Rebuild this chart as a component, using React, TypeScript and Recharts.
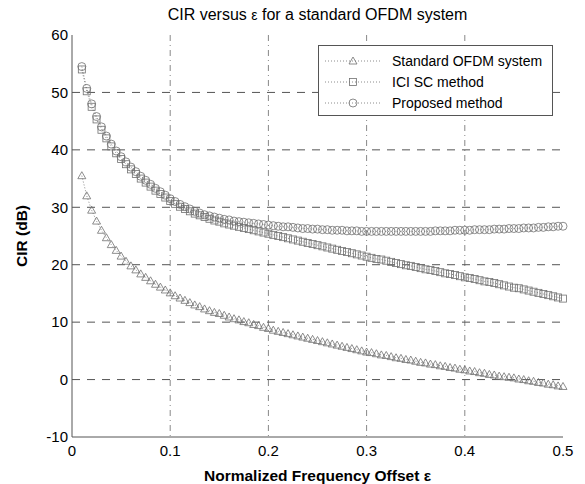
import { LineChart, Line, XAxis, YAxis, CartesianGrid, Legend, Label } from 'recharts'

const FONT = '"Liberation Sans", Arial, Helvetica, sans-serif'

// normalized frequency offset, one point every 0.005
const epsValues = [
  0.01, 0.015, 0.02, 0.025, 0.03, 0.035, 0.04, 0.045, 0.05, 0.055,
  0.06, 0.065, 0.07, 0.075, 0.08, 0.085, 0.09, 0.095, 0.1,
  0.105, 0.11, 0.115, 0.12, 0.125, 0.13, 0.135, 0.14, 0.145, 0.15,
  0.155, 0.16, 0.165, 0.17, 0.175, 0.18, 0.185, 0.19, 0.195, 0.2,
  0.205, 0.21, 0.215, 0.22, 0.225, 0.23, 0.235, 0.24, 0.245, 0.25,
  0.255, 0.26, 0.265, 0.27, 0.275, 0.28, 0.285, 0.29, 0.295, 0.3,
  0.305, 0.31, 0.315, 0.32, 0.325, 0.33, 0.335, 0.34, 0.345, 0.35,
  0.355, 0.36, 0.365, 0.37, 0.375, 0.38, 0.385, 0.39, 0.395, 0.4,
  0.405, 0.41, 0.415, 0.42, 0.425, 0.43, 0.435, 0.44, 0.445, 0.45,
  0.455, 0.46, 0.465, 0.47, 0.475, 0.48, 0.485, 0.49, 0.495, 0.5,
]

const standardOfdm = [
  35.5, 32.0, 29.5, 27.6, 26.0, 24.7, 23.5, 22.5, 21.5, 20.6,
  19.8, 19.1, 18.4, 17.8, 17.2, 16.6, 16.1, 15.6, 15.1,
  14.6, 14.2, 13.8, 13.4, 13.0, 12.7, 12.3, 12.0, 11.7, 11.5,
  11.2, 10.9, 10.6, 10.4, 10.1, 9.9, 9.6, 9.4, 9.1, 8.9,
  8.6, 8.4, 8.2, 8.0, 7.8, 7.6, 7.4, 7.2, 7.0, 6.8,
  6.6, 6.4, 6.2, 6.0, 5.8, 5.6, 5.4, 5.2, 5.0, 4.8,
  4.7, 4.5, 4.3, 4.2, 4.0, 3.8, 3.7, 3.5, 3.4, 3.2,
  3.0, 2.9, 2.7, 2.6, 2.4, 2.3, 2.1, 2.0, 1.8, 1.7,
  1.5, 1.4, 1.2, 1.1, 0.9, 0.8, 0.6, 0.5, 0.4, 0.3,
  0.1, 0.0, -0.2, -0.3, -0.5, -0.6, -0.8, -0.9, -1.1, -1.2,
]

const iciSc = [
  54.0, 50.2, 47.5, 45.3, 43.5, 42.0, 40.6, 39.4, 38.4, 37.5,
  36.6, 35.8, 35.0, 34.3, 33.6, 32.9, 32.3, 31.7, 31.1,
  30.6, 30.1, 29.7, 29.3, 28.9, 28.6, 28.3, 28.0, 27.7, 27.5,
  27.2, 27.0, 26.8, 26.6, 26.4, 26.2, 26.0, 25.8, 25.6, 25.4,
  25.2, 25.0, 24.8, 24.6, 24.4, 24.2, 24.0, 23.8, 23.6, 23.4,
  23.2, 23.0, 22.8, 22.6, 22.4, 22.2, 22.0, 21.8, 21.6, 21.4,
  21.2, 21.0, 20.9, 20.7, 20.5, 20.3, 20.1, 19.9, 19.8, 19.6,
  19.4, 19.2, 19.1, 18.9, 18.7, 18.5, 18.4, 18.2, 18.0, 17.8,
  17.7, 17.5, 17.3, 17.1, 17.0, 16.8, 16.6, 16.4, 16.2, 16.0,
  15.9, 15.7, 15.5, 15.3, 15.1, 14.9, 14.7, 14.5, 14.3, 14.1,
]

const proposed = [
  54.5, 50.7, 48.0, 45.8, 44.0, 42.4, 41.0, 39.8, 38.8, 37.9,
  37.0, 36.2, 35.4, 34.7, 34.0, 33.3, 32.7, 32.1, 31.5,
  31.0, 30.5, 30.1, 29.7, 29.3, 29.0, 28.7, 28.5, 28.3, 28.1,
  27.9, 27.8, 27.6, 27.5, 27.4, 27.3, 27.2, 27.1, 27.0, 26.9,
  26.8, 26.7, 26.6, 26.6, 26.5, 26.4, 26.3, 26.3, 26.2, 26.2,
  26.1, 26.1, 26.0, 26.0, 26.0, 25.9, 25.9, 25.9, 25.8, 25.8,
  25.8, 25.8, 25.8, 25.8, 25.8, 25.8, 25.8, 25.8, 25.8, 25.8,
  25.8, 25.8, 25.8, 25.9, 25.9, 25.9, 25.9, 26.0, 26.0, 26.0,
  26.0, 26.1, 26.1, 26.1, 26.1, 26.2, 26.2, 26.2, 26.3, 26.3,
  26.3, 26.4, 26.4, 26.4, 26.5, 26.5, 26.6, 26.6, 26.7, 26.7,
]

const xTicks = [0, 0.1, 0.2, 0.3, 0.4, 0.5]
const yTicks = [-10, 0, 10, 20, 30, 40, 50, 60]
const gridX = [0.1, 0.2, 0.3, 0.4]
const gridY = [0, 10, 20, 30, 40, 50]

const data = epsValues.map((e, i) => ({
  eps: e,
  standard: standardOfdm[i],
  iciSc: iciSc[i],
  proposed: proposed[i],
}))

const LINE_COLOR = '#8c8c8c'
const MARK_COLOR = '#707070'

type MarkProps = { cx?: number; cy?: number }

function TriangleMark({ cx = 0, cy = 0 }: MarkProps) {
  return (
    <path
      d={`M${cx},${cy - 4} L${cx + 4},${cy + 3} L${cx - 4},${cy + 3} Z`}
      fill="none"
      stroke={MARK_COLOR}
      strokeWidth={0.8}
    />
  )
}

function SquareMark({ cx = 0, cy = 0 }: MarkProps) {
  return <rect x={cx - 3.5} y={cy - 3.5} width={7} height={7} fill="none" stroke={MARK_COLOR} strokeWidth={0.8} />
}

function CircleMark({ cx = 0, cy = 0 }: MarkProps) {
  return <circle cx={cx} cy={cy} r={4} fill="none" stroke={MARK_COLOR} strokeWidth={0.8} />
}

const markers = [TriangleMark, SquareMark, CircleMark]
const seriesKeys = ['standard', 'iciSc', 'proposed']
const seriesNames = ['Standard OFDM system', 'ICI SC method', 'Proposed method']

function LegendBox() {
  return (
    <div
      style={{
        boxSizing: 'border-box',
        width: 235,
        height: 71,
        background: '#fff',
        border: '1px solid #555',
        paddingTop: 4,
        fontFamily: FONT,
        fontSize: 14,
        color: '#000',
      }}
    >
      {seriesNames.map((name, i) => {
        const Mark = markers[i]
        return (
          <div key={name} style={{ display: 'flex', alignItems: 'center', height: 21 }}>
            <svg width={57} height={12} style={{ marginLeft: 6, marginRight: 10 }}>
              <line x1={0} y1={6} x2={57} y2={6} stroke={LINE_COLOR} strokeDasharray="1 2" />
              <Mark cx={28} cy={6} />
            </svg>
            <span style={{ whiteSpace: 'nowrap' }}>{name}</span>
          </div>
        )
      })}
    </div>
  )
}

export default function App() {
  return (
    <div style={{ position: 'absolute', left: 0, top: 0, width: 585, height: 484, background: '#fff' }}>
      <div
        style={{
          position: 'absolute',
          left: 72,
          top: 5,
          width: 491,
          textAlign: 'center',
          fontFamily: FONT,
          fontSize: 16,
          lineHeight: '19px',
          color: '#000',
        }}
      >
        CIR versus <span style={{ fontSize: 14 }}>ε</span> for a standard OFDM system
      </div>
      <LineChart width={585} height={484} data={data} margin={{ top: 35, right: 22, left: 0, bottom: 0 }}>
        <CartesianGrid horizontal={false} verticalValues={gridX} stroke="#888" strokeDasharray="6 4 1 4" />
        <CartesianGrid vertical={false} horizontalValues={gridY} stroke="#555" strokeDasharray="8 7" />
        <XAxis
          dataKey="eps"
          type="number"
          domain={[0, 0.5]}
          ticks={xTicks}
          interval={0}
          tickLine={false}
          tickSize={6}
          axisLine={{ stroke: '#555' }}
          tick={{ fill: '#000', fontSize: 15, fontFamily: FONT }}
          height={47}
        >
          <Label
            value="Normalized Frequency Offset ε"
            position="insideBottom"
            offset={3}
            style={{ fill: '#000', fontSize: 15.5, fontWeight: 'bold', fontFamily: FONT }}
          />
        </XAxis>
        <XAxis xAxisId="top" orientation="top" type="number" domain={[0, 0.5]} tick={false} tickLine={false} height={0} axisLine={{ stroke: '#999', strokeDasharray: '1 2' }} />
        <YAxis
          type="number"
          domain={[-10, 60]}
          ticks={yTicks}
          interval={0}
          tickLine={false}
          tickSize={2}
          axisLine={{ stroke: '#555' }}
          tick={{ fill: '#000', fontSize: 15, fontFamily: FONT }}
          width={72}
        >
          <Label
            value="CIR (dB)"
            angle={-90}
            position="insideLeft"
            offset={21}
            style={{ fill: '#000', fontSize: 15.5, fontWeight: 'bold', fontFamily: FONT, textAnchor: 'middle' }}
          />
        </YAxis>
        <YAxis yAxisId="right" orientation="right" type="number" domain={[-10, 60]} tick={false} tickLine={false} width={0} axisLine={{ stroke: '#999', strokeDasharray: '1 2' }} />
        <Legend
          layout="vertical"
          align="center"
          verticalAlign="middle"
          wrapperStyle={{ position: 'absolute', left: 318, top: 45, width: 235, height: 71 }}
          content={() => <LegendBox />}
        />
        {seriesKeys.map((key, i) => {
          const Mark = markers[i]
          return (
            <Line
              key={key}
              type="linear"
              dataKey={key}
              name={seriesNames[i]}
              stroke={LINE_COLOR}
              strokeWidth={1}
              strokeDasharray="1 2"
              dot={(p: any) => <Mark key={`${key}-${p.index}`} cx={p.cx} cy={p.cy} />}
              activeDot={false}
              isAnimationActive={false}
            />
          )
        })}
      </LineChart>
    </div>
  )
}
